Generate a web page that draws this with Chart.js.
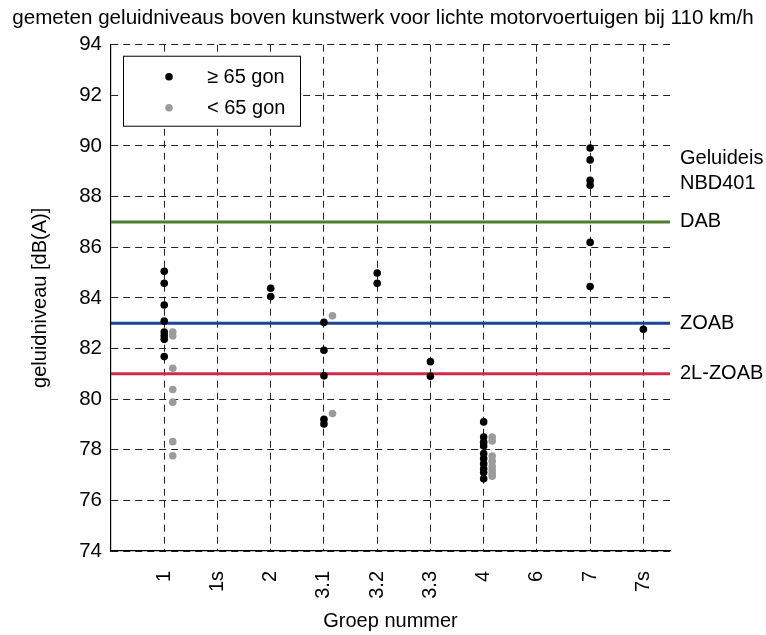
<!DOCTYPE html>
<html>
<head>
<meta charset="utf-8">
<script src="https://cdn.jsdelivr.net/npm/chart.js@4/dist/chart.umd.min.js"></script>
<style>
  body { margin: 0; background: #fff; }
  #wrap { width: 766px; height: 635px; }
</style>
</head>
<body>
<div id="wrap"><canvas id="geluid" width="766" height="635"></canvas></div>
<script>
/* data */
var groepen = ['1', '1s', '2', '3.1', '3.2', '3.3', '4', '6', '7', '7s'];

// >= 65 gon (black), one list per groep
var steil = [
  [85.05, 84.58, 83.72, 83.08, 82.65, 82.5, 82.36, 81.68],
  [],
  [84.38, 84.05],
  [83.03, 81.93, 80.92, 79.2, 79.02],
  [84.98, 84.58],
  [81.48, 80.9],
  [79.1, 78.5, 78.3, 78.15, 77.85, 77.65, 77.45, 77.25, 77.1, 76.85],
  [],
  [89.92, 89.45, 88.64, 88.45, 86.19, 84.45],
  [82.76]
];

// < 65 gon (grey)
var vlak = [
  [82.65, 82.5, 81.22, 80.38, 79.88, 78.32, 77.76],
  [],
  [],
  [83.29, 79.43],
  [],
  [],
  [78.5, 78.35, 77.75, 77.55, 77.35, 77.2, 77.05, 76.95],
  [],
  [],
  []
];

// reference levels (horizontal lines)
var normNamen = ['DAB', 'ZOAB', '2L-ZOAB'];
var normNiveaus = [87, 83, 81];
var normKleuren = ['#4b7f2c', '#1b449b', '#d22a4d'];

// texts right of the plot
var zijTeksten = ['Geluideis', 'NBD401', 'DAB', 'ZOAB', '2L-ZOAB'];
var zijNiveaus = [89.5, 88.5, 87, 83, 81];

var yTicks = [74, 76, 78, 80, 82, 84, 86, 88, 90, 92, 94];

var FONT = '"Liberation Sans", Arial, Helvetica, sans-serif';
var X_MIN = -1, X_MAX = 9.5;
var GRIJS_SHIFT = 0.16; // grey dots sit a little right of the groep

function punten(lijst, shift) {
  var out = [];
  for (var i = 0; i < lijst.length; i++) {
    for (var j = 0; j < lijst[i].length; j++) {
      out.push({ x: i + shift, y: lijst[i][j] });
    }
  }
  return out;
}

var datasets = [];
datasets.push({
  label: '\u2265 65 gon',
  data: punten(steil, 0),
  backgroundColor: '#000',
  borderWidth: 0,
  pointRadius: 3.8,
  pointHoverRadius: 3.8,
  order: 0
});
datasets.push({
  label: '< 65 gon',
  data: punten(vlak, GRIJS_SHIFT),
  backgroundColor: '#9b9b9b',
  borderWidth: 0,
  pointRadius: 3.8,
  pointHoverRadius: 3.8,
  order: 1
});
for (var n = 0; n < normNiveaus.length; n++) {
  datasets.push({
    label: normNamen[n],
    type: 'line',
    data: [{ x: X_MIN, y: normNiveaus[n] }, { x: X_MAX, y: normNiveaus[n] }],
    borderColor: normKleuren[n],
    borderWidth: 3,
    pointRadius: 0,
    fill: false,
    order: 5
  });
}

// legend box in the upper left
var legendaBox = {
  id: 'legendaBox',
  afterDatasetsDraw: function (chart) {
    var ctx = chart.ctx;
    var area = chart.chartArea;
    ctx.save();
    var lx = area.left + 12, ly = area.top + 11;
    ctx.fillStyle = '#fff';
    ctx.fillRect(lx, ly, 177, 70);
    ctx.strokeStyle = '#000';
    ctx.lineWidth = 1;
    ctx.strokeRect(lx + 0.5, ly + 0.5, 177, 70);
    ctx.font = '20px ' + FONT;
    ctx.textBaseline = 'middle';
    ctx.textAlign = 'left';
    for (var i = 0; i < 2; i++) {
      var ry = ly + 21 + i * 31;
      ctx.fillStyle = chart.data.datasets[i].backgroundColor;
      ctx.beginPath();
      ctx.arc(lx + 46, ry, 3.8, 0, Math.PI * 2);
      ctx.fill();
      ctx.fillStyle = '#000';
      ctx.fillText(chart.data.datasets[i].label, lx + 84, ry + 1);
    }
    ctx.restore();
  }
};

var ctx = document.getElementById('geluid').getContext('2d');
new Chart(ctx, {
  type: 'scatter',
  data: { datasets: datasets },
  plugins: [legendaBox],
  options: {
    responsive: false,
    animation: false,
    layout: { padding: 0 },
    plugins: {
      legend: { display: false },
      tooltip: { enabled: false },
      title: {
        display: true,
        text: 'gemeten geluidniveaus boven kunstwerk voor lichte motorvoertuigen bij 110 km/h',
        color: '#000',
        font: { family: FONT, size: 20.6, weight: 'normal' },
        padding: { top: 6, bottom: 14 }
      }
    },
    scales: {
      x: {
        type: 'linear',
        min: X_MIN,
        max: X_MAX,
        afterBuildTicks: function (axis) {
          axis.ticks = groepen.map(function (g, i) { return { value: i }; });
        },
        afterFit: function (axis) { axis.height = 84; },
        ticks: {
          autoSkip: false,
          minRotation: 90,
          maxRotation: 90,
          padding: 20,
          color: '#000',
          font: { family: FONT, size: 20 },
          callback: function (v) { return groepen[v]; }
        },
        grid: { color: '#222', lineWidth: 1, drawTicks: false, tickLength: 0 },
        border: { display: true, color: '#000', width: 1.2, dash: [7, 5] },
        title: {
          display: true,
          text: 'Groep nummer',
          color: '#000',
          font: { family: FONT, size: 20 },
          padding: { top: 0, bottom: 2 }
        }
      },
      y: {
        min: 74,
        max: 94,
        afterBuildTicks: function (axis) {
          axis.ticks = yTicks.map(function (t) { return { value: t }; });
        },
        afterFit: function (axis) { axis.width = 111; },
        ticks: {
          padding: 9,
          color: '#000',
          font: { family: FONT, size: 20.5 }
        },
        grid: { color: '#222', lineWidth: 1, drawTicks: false, tickLength: 0 },
        border: { display: true, color: '#000', width: 1.2, dash: [7, 5] },
        title: {
          display: true,
          text: 'geluidniveau [dB(A)]',
          color: '#000',
          font: { family: FONT, size: 20 },
          padding: { top: 28, bottom: 0 }
        }
      },
      // right axis only carries the texts next to the reference lines
      yNorm: {
        type: 'linear',
        position: 'right',
        min: 74,
        max: 94,
        afterBuildTicks: function (axis) {
          axis.ticks = zijNiveaus.map(function (t) { return { value: t }; });
        },
        afterFit: function (axis) { axis.width = 96; },
        ticks: {
          padding: 10,
          color: '#000',
          font: { family: FONT, size: 20 },
          callback: function (v, i) { return zijTeksten[i]; }
        },
        grid: { display: false, drawTicks: false },
        border: { display: false }
      }
    }
  }
});
</script>
</body>
</html>
